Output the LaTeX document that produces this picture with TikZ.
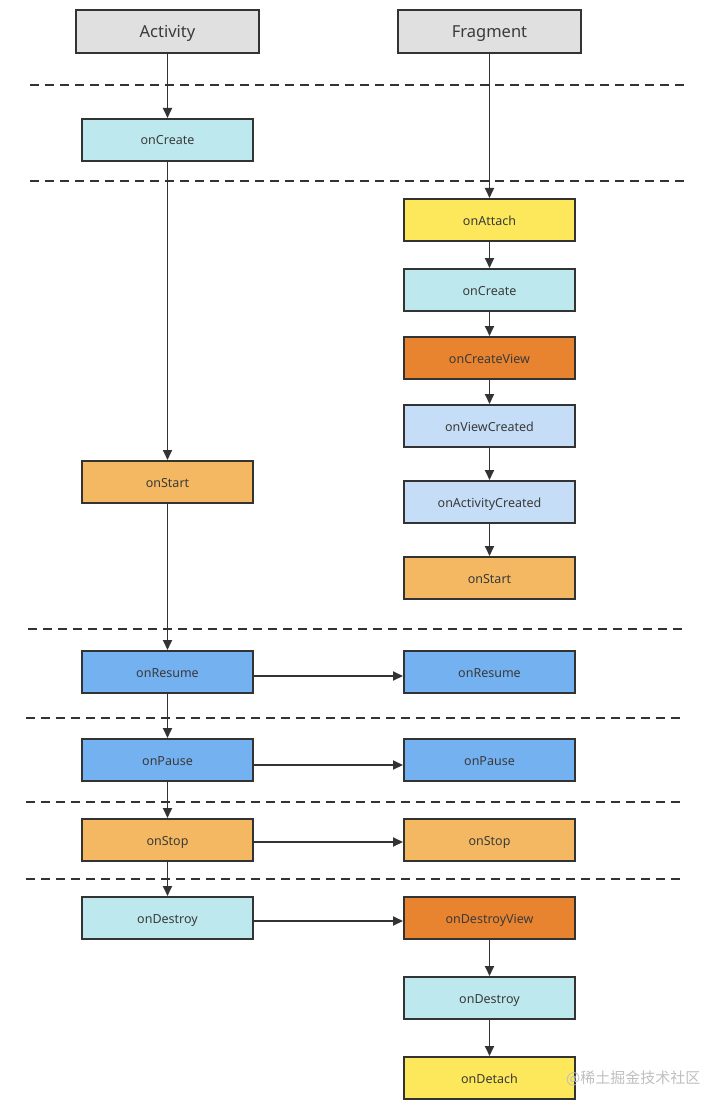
\documentclass[tikz,border=0pt]{standalone}
\usepackage{fontspec}
\setmainfont{Noto Sans}
\newfontfamily\cjk{Noto Sans CJK SC}
\usetikzlibrary{arrows.meta}
\definecolor{hdr}{HTML}{E0E0E0}
\definecolor{cyanc}{HTML}{BDE9EE}
\definecolor{orangel}{HTML}{F4B862}
\definecolor{blued}{HTML}{74B1F0}
\definecolor{yell}{HTML}{FCE85A}
\definecolor{orged}{HTML}{E88330}
\definecolor{bluel}{HTML}{C5DDF6}
\definecolor{edge}{HTML}{333333}
\definecolor{txt}{HTML}{3A3A3A}
\begin{document}
\begin{tikzpicture}[x=1pt,y=-1pt,
  base/.style={draw=edge,line width=2pt,minimum width=171pt,minimum height=42pt,inner sep=0pt,text=txt,font=\fontsize{12.5}{14}\selectfont,text height=12pt,text depth=2pt},
  hdrbox/.style={base,fill=hdr,minimum width=183pt,minimum height=43pt,font=\fontsize{16.5}{18}\selectfont,text height=15pt,text depth=3pt},
  cbox/.style={base,fill=cyanc},
  obox/.style={base,fill=orangel},
  bbox/.style={base,fill=blued},
  ybox/.style={base,fill=yell},
  dobox/.style={base,fill=orged},
  lbbox/.style={base,fill=bluel},
  sep/.style={draw=edge,line width=1.8pt,dash pattern=on 9pt off 6pt},
  arr/.style={draw=edge,line width=1.8pt,-{Triangle[length=10pt,width=9pt]}}
]
\useasboundingbox (0,0) rectangle (726,1110);
% separators
\draw[sep] (30,85) -- (684,85);
\draw[sep] (30,181) -- (684,181);
\draw[sep] (28,629) -- (684,629);
\draw[sep] (26,718) -- (682,718);
\draw[sep] (26,802) -- (682,802);
\draw[sep] (26,879) -- (682,879);
% headers
\node[hdrbox] (act) at (167.5,31.5) {Activity};
\node[hdrbox] (frag) at (489.5,31.5) {Fragment};
% activity column
\node[cbox] (acreate) at (167.5,140) {onCreate};
\node[obox] (astart) at (167.5,482) {onStart};
\node[bbox] (aresume) at (167.5,672) {onResume};
\node[bbox] (apause) at (167.5,760) {onPause};
\node[obox] (astop) at (167.5,840) {onStop};
\node[cbox] (adestroy) at (167.5,918) {onDestroy};
% fragment column
\node[ybox] (fattach) at (489.5,220) {onAttach};
\node[cbox] (fcreate) at (489.5,290) {onCreate};
\node[dobox] (fcview) at (489.5,358) {onCreateView};
\node[lbbox] (fvcreated) at (489.5,426) {onViewCreated};
\node[lbbox] (facreated) at (489.5,502) {onActivityCreated};
\node[obox] (fstart) at (489.5,578) {onStart};
\node[bbox] (fresume) at (489.5,672) {onResume};
\node[bbox] (fpause) at (489.5,760) {onPause};
\node[obox] (fstop) at (489.5,840) {onStop};
\node[dobox] (fdview) at (489.5,918) {onDestroyView};
\node[cbox] (fdestroy) at (489.5,998) {onDestroy};
\node[ybox] (fdetach) at (489.5,1078) {onDetach};
% watermark
\node[text=black!25,font=\cjk\fontsize{15}{17}\selectfont,anchor=west,inner sep=0pt] (wm) at (566,1078) {@稀土掘金技术社区};
% activity arrows
\draw[arr] (act) -- (acreate);
\draw[arr] (acreate) -- (astart);
\draw[arr] (astart) -- (aresume);
\draw[arr] (aresume) -- (apause);
\draw[arr] (apause) -- (astop);
\draw[arr] (astop) -- (adestroy);
% fragment arrows
\draw[arr] (frag) -- (fattach);
\draw[arr] (fattach) -- (fcreate);
\draw[arr] (fcreate) -- (fcview);
\draw[arr] (fcview) -- (fvcreated);
\draw[arr] (fvcreated) -- (facreated);
\draw[arr] (facreated) -- (fstart);
\draw[arr] (fdview) -- (fdestroy);
\draw[arr] (fdestroy) -- (fdetach);
% horizontal
\draw[arr] ([yshift=-4pt]aresume.east) -- ([yshift=-4pt]fresume.west);
\draw[arr] ([yshift=-5pt]apause.east) -- ([yshift=-5pt]fpause.west);
\draw[arr] ([yshift=-2pt]astop.east) -- ([yshift=-2pt]fstop.west);
\draw[arr] ([yshift=-3pt]adestroy.east) -- ([yshift=-3pt]fdview.west);
\end{tikzpicture}
\end{document}
